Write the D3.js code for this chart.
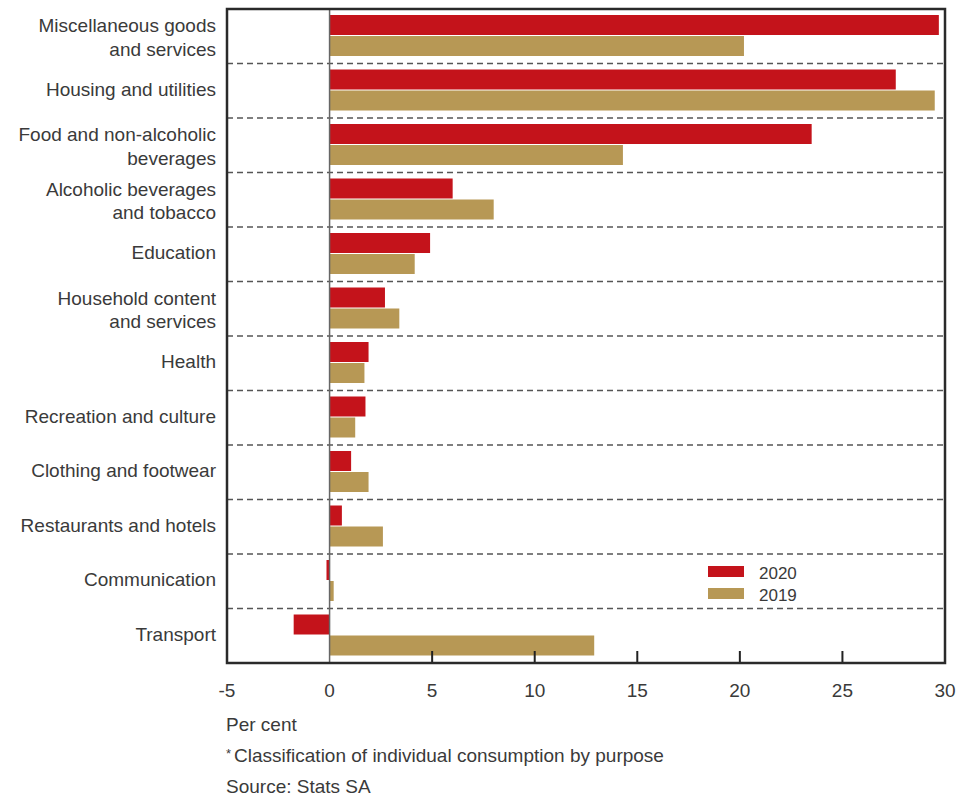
<!DOCTYPE html>
<html><head><meta charset="utf-8">
<script src="https://cdn.jsdelivr.net/npm/d3@7"></script>
<style>body{margin:0;background:#fff}svg{display:block}text{font-family:"Liberation Sans",Arial,sans-serif;fill:#3a3a3a}</style>
</head><body><svg id="c" width="963" height="800"></svg>
<script>
const categories = [
  ["Miscellaneous goods","and services"],
  ["Housing and utilities"],
  ["Food and non-alcoholic","beverages"],
  ["Alcoholic beverages","and tobacco"],
  ["Education"],
  ["Household content","and services"],
  ["Health"],
  ["Recreation and culture"],
  ["Clothing and footwear"],
  ["Restaurants and hotels"],
  ["Communication"],
  ["Transport"]
];
const values2020 = [29.7, 27.6, 23.5, 6.0, 4.9, 2.7, 1.9, 1.75, 1.05, 0.6, -0.15, -1.75];
const values2019 = [20.2, 29.5, 14.3, 8.0, 4.15, 3.4, 1.7, 1.25, 1.9, 2.6, 0.2, 12.9];
const seriesNames = ["2020", "2019"];
const tickValues = [-5, 0, 5, 10, 15, 20, 25, 30];
const innerTicks = [5, 10, 15, 20, 25];
const colors = ["#C4131B", "#B79855"];

const svg = d3.select("#c");
const L = 227, R = 945, T = 9, B = 663;
const x = d3.scaleLinear().domain([-5, 30]).range([L, R]);
const y = d3.scaleBand().domain(d3.range(categories.length)).range([T, B]);
const bw = y.bandwidth();

// dashed separators
svg.append("g").selectAll("line").data(d3.range(1, categories.length)).join("line")
  .attr("x1", L).attr("x2", R)
  .attr("y1", d => y(d)).attr("y2", d => y(d))
  .attr("stroke", "#555").attr("stroke-width", 1.5).attr("stroke-dasharray", "6,4");

// bars
const barH = 20;
const series = [values2020, values2019];
series.forEach((vals, si) => {
  svg.append("g").selectAll("rect").data(vals).join("rect")
    .attr("x", d => x(Math.min(0, d)))
    .attr("width", d => Math.abs(x(d) - x(0)))
    .attr("y", (d, i) => y(i) + 6 + si * (barH + 1))
    .attr("height", barH)
    .attr("fill", colors[si]);
});

// zero line
svg.append("line").attr("x1", x(0)).attr("x2", x(0)).attr("y1", T).attr("y2", B)
  .attr("stroke", "#666").attr("stroke-width", 1.5);

// inner ticks
svg.append("g").selectAll("line").data(innerTicks).join("line")
  .attr("x1", d => x(d)).attr("x2", d => x(d)).attr("y1", B - 12).attr("y2", B)
  .attr("stroke", "#222").attr("stroke-width", 2);

// frame
svg.append("rect").attr("x", L).attr("y", T).attr("width", R - L).attr("height", B - T)
  .attr("fill", "none").attr("stroke", "#2a2a2a").attr("stroke-width", 2.5);

// tick labels
svg.append("g").selectAll("text").data(tickValues).join("text")
  .attr("x", d => x(d)).attr("y", 697).attr("text-anchor", "middle")
  .attr("font-size", 19).text(d => d);

// category labels
categories.forEach((lines, i) => {
  const cy = y(i) + bw / 2;
  const lh = 23.5;
  const off = lines.length > 1 ? 7.5 : 5;
  const t = svg.append("text").attr("text-anchor", "end").attr("font-size", 19);
  lines.forEach((ln, j) => {
    t.append("tspan").attr("x", 216)
      .attr("y", cy + off + (j - (lines.length - 1) / 2) * lh).text(ln);
  });
});

// legend
seriesNames.forEach((n, i) => {
  svg.append("rect").attr("x", 708).attr("y", 566 + i * 22).attr("width", 36).attr("height", 11).attr("fill", colors[i]);
  svg.append("text").attr("x", 759).attr("y", 579 + i * 22).attr("font-size", 17).text(n);
});

// footer
svg.append("text").attr("x", 226).attr("y", 731).attr("font-size", 19).text("Per cent");
const fn = svg.append("text").attr("x", 226).attr("y", 762).attr("font-size", 19);
fn.append("tspan").attr("font-size", 13).attr("dy", -4).text("*");
fn.append("tspan").attr("dy", 4).attr("dx", 3).text("Classification of individual consumption by purpose");
svg.append("text").attr("x", 226).attr("y", 793).attr("font-size", 19).text("Source: Stats SA");
</script></body></html>
